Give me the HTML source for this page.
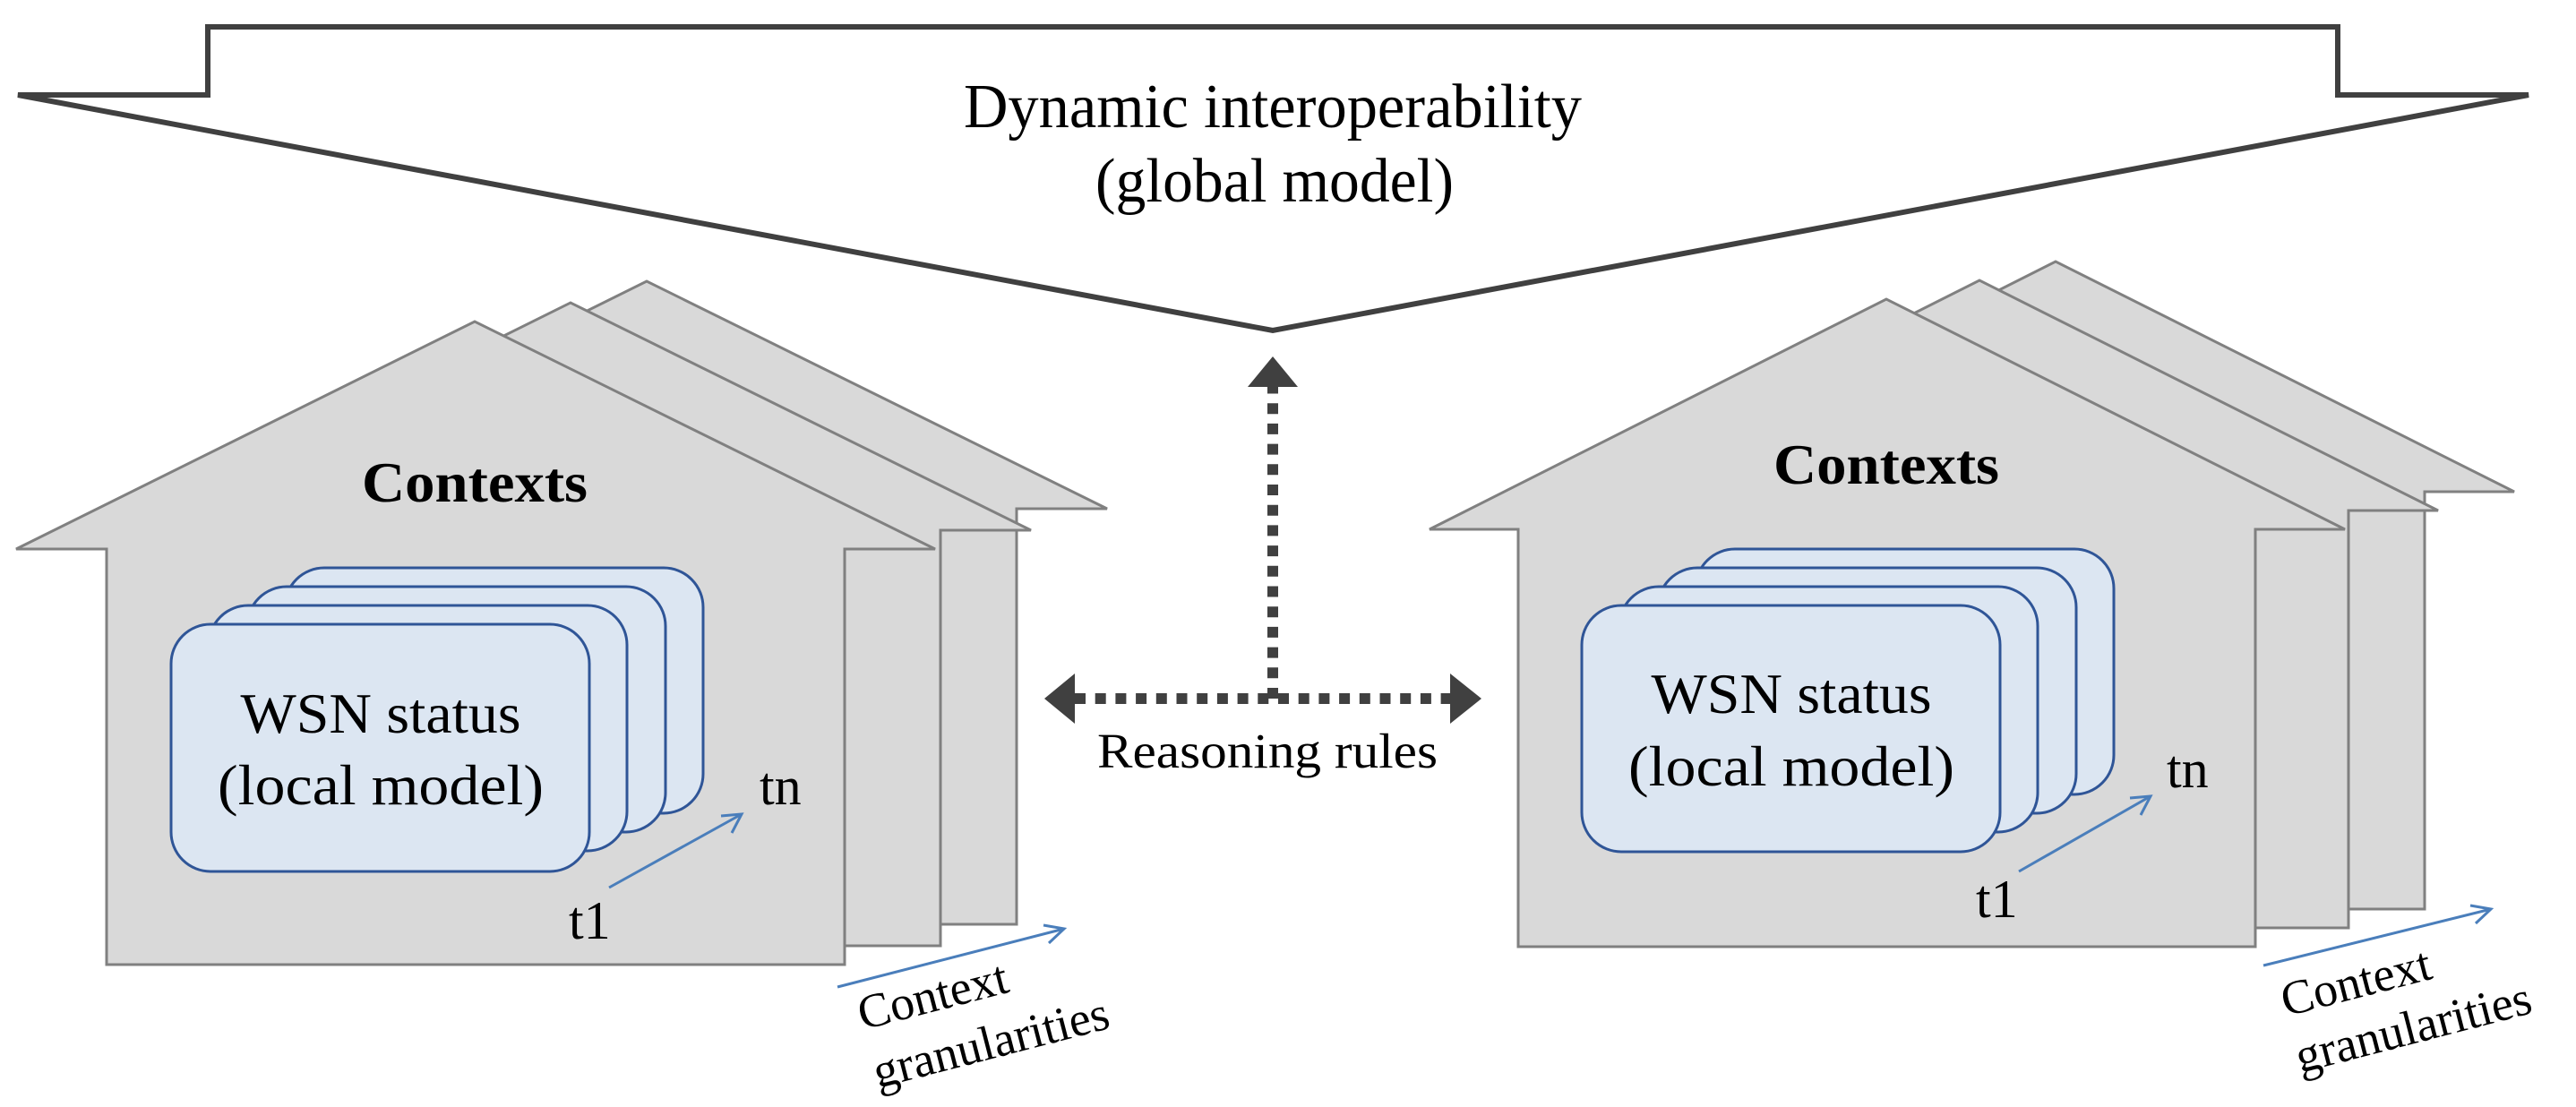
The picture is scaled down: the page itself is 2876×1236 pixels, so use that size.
<!DOCTYPE html>
<html><head><meta charset="utf-8"><style>
html,body{margin:0;padding:0;background:#fff;}
svg{display:block;}
svg text{font-family:"Liberation Serif","Times New Roman",serif !important;fill:#000;}
</style></head><body>
<svg width="2876" height="1236" viewBox="0 0 2876 1236" xmlns="http://www.w3.org/2000/svg" font-family="Liberation Serif, serif">
<!-- banner -->
<polygon points="232,30 2610,30 2610,106 2823,106 1421,369 20,106 232,106" fill="#fff" stroke="#404040" stroke-width="6" stroke-linejoin="miter"/>
<text font-family="Liberation Serif, serif" x="1421" y="142" font-size="70" text-anchor="middle" textLength="690" lengthAdjust="spacingAndGlyphs">Dynamic interoperability</text>
<text font-family="Liberation Serif, serif" x="1423" y="225" font-size="70" text-anchor="middle" textLength="400" lengthAdjust="spacingAndGlyphs">(global model)</text>

<!-- left houses -->
<g fill="#d9d9d9" stroke="#808080" stroke-width="3">
<polygon transform="translate(192,-45)" points="18,613 530,359 1044,613 943,613 943,1077 119,1077 119,613"/>
<polygon transform="translate(107,-21)" points="18,613 530,359 1044,613 943,613 943,1077 119,1077 119,613"/>
<polygon points="18,613 530,359 1044,613 943,613 943,1077 119,1077 119,613"/>
</g>
<text font-family="Liberation Serif, serif" x="530" y="560" font-size="64" font-weight="bold" text-anchor="middle" textLength="252" lengthAdjust="spacingAndGlyphs">Contexts</text>
<g fill="#dce6f2" stroke="#2f5597" stroke-width="3">
<rect x="318" y="634" width="467" height="274" rx="44"/>
<rect x="276" y="655" width="467" height="274" rx="44"/>
<rect x="233" y="676" width="467" height="274" rx="44"/>
<rect x="191" y="697" width="467" height="276" rx="44"/>
</g>
<text font-family="Liberation Serif, serif" x="425" y="818" font-size="64" text-anchor="middle" textLength="313" lengthAdjust="spacingAndGlyphs">WSN status</text>
<text font-family="Liberation Serif, serif" x="425" y="898" font-size="64" text-anchor="middle" textLength="364" lengthAdjust="spacingAndGlyphs">(local model)</text>
<g stroke="#4a7ebb" stroke-width="3" fill="none">
<line x1="680" y1="991" x2="828" y2="909"/><polyline points="805,911 828,909 817,930"/>
<line x1="935" y1="1102" x2="1188" y2="1037"/><polyline points="1165,1033 1188,1037 1171,1053"/>
</g>
<text font-family="Liberation Serif, serif" x="848" y="898" font-size="60">tn</text>
<text font-family="Liberation Serif, serif" x="635" y="1048" font-size="60">t1</text>
<text font-family="Liberation Serif, serif" transform="translate(963,1150) rotate(-14.5)" font-size="54">Context</text>
<text font-family="Liberation Serif, serif" transform="translate(980,1215) rotate(-14.5)" font-size="54">granularities</text>

<!-- right houses -->
<g fill="#d9d9d9" stroke="#808080" stroke-width="3">
<polygon transform="translate(189,-42)" points="1596,591 2106,334 2618,591 2518,591 2518,1057 1695,1057 1695,591"/>
<polygon transform="translate(104,-21)" points="1596,591 2106,334 2618,591 2518,591 2518,1057 1695,1057 1695,591"/>
<polygon points="1596,591 2106,334 2618,591 2518,591 2518,1057 1695,1057 1695,591"/>
</g>
<text font-family="Liberation Serif, serif" x="2106" y="540" font-size="64" font-weight="bold" text-anchor="middle" textLength="252" lengthAdjust="spacingAndGlyphs">Contexts</text>
<g fill="#dce6f2" stroke="#2f5597" stroke-width="3">
<rect x="1893" y="613" width="467" height="274" rx="44"/>
<rect x="1851" y="634" width="467" height="274" rx="44"/>
<rect x="1808" y="655" width="467" height="274" rx="44"/>
<rect x="1766" y="676" width="467" height="275" rx="44"/>
</g>
<text font-family="Liberation Serif, serif" x="2000" y="796" font-size="64" text-anchor="middle" textLength="313" lengthAdjust="spacingAndGlyphs">WSN status</text>
<text font-family="Liberation Serif, serif" x="2000" y="877" font-size="64" text-anchor="middle" textLength="364" lengthAdjust="spacingAndGlyphs">(local model)</text>
<g stroke="#4a7ebb" stroke-width="3" fill="none">
<line x1="2254" y1="973" x2="2401" y2="889"/><polyline points="2378,891 2401,889 2390,910"/>
<line x1="2527" y1="1078" x2="2781" y2="1015"/><polyline points="2758,1011 2781,1015 2764,1031"/>
</g>
<text font-family="Liberation Serif, serif" x="2419" y="879" font-size="60">tn</text>
<text font-family="Liberation Serif, serif" x="2206" y="1024" font-size="60">t1</text>
<text font-family="Liberation Serif, serif" transform="translate(2552,1135) rotate(-14.5)" font-size="54">Context</text>
<text font-family="Liberation Serif, serif" transform="translate(2568,1198) rotate(-14.5)" font-size="54">granularities</text>

<!-- center arrows -->
<g stroke="#404040" stroke-width="12" stroke-dasharray="12 10.7" fill="none">
<line x1="1421" y1="780" x2="1421" y2="432"/>
<line x1="1200" y1="780" x2="1619" y2="780"/>
</g>
<g fill="#404040">
<polygon points="1421,398 1449,432 1393,432"/>
<polygon points="1166,780 1200,752 1200,808"/>
<polygon points="1654,780 1619,752 1619,808"/>
</g>
<text font-family="Liberation Serif, serif" x="1415" y="857" font-size="55" text-anchor="middle" textLength="380" lengthAdjust="spacingAndGlyphs">Reasoning rules</text>
</svg>
</body></html>
